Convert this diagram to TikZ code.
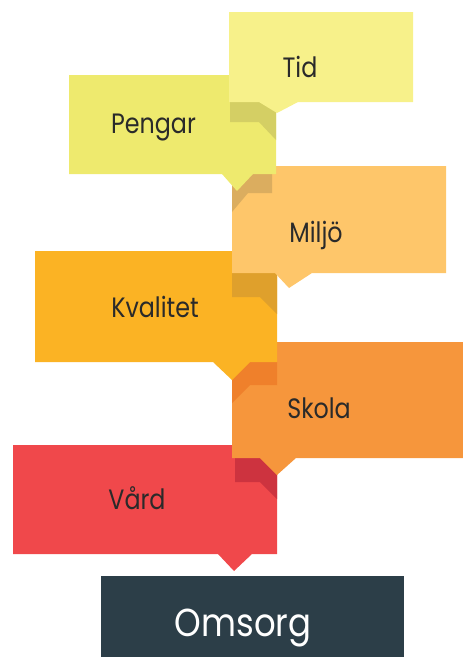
\documentclass[tikz,border=0pt]{standalone}
\usepackage{fontspec}
\setmainfont{Poppins}
\newfontfamily\lblfont{Poppins}[FakeStretch=0.85]
\newfontfamily\bigfont{Poppins}[FakeStretch=0.87]
\definecolor{cTid}{HTML}{F7F18A}
\definecolor{cPengar}{HTML}{EEEA6E}
\definecolor{sPengar}{HTML}{D4CF64}
\definecolor{cMiljo}{HTML}{FEC66A}
\definecolor{sMiljo}{HTML}{DBAD5F}
\definecolor{cKval}{HTML}{FBB324}
\definecolor{sKval}{HTML}{DFA02C}
\definecolor{cSkola}{HTML}{F6963C}
\definecolor{sSkola}{HTML}{EF802B}
\definecolor{cVard}{HTML}{F0484B}
\definecolor{sVard}{HTML}{CD333F}
\definecolor{cOmsorg}{HTML}{2C3E48}
\definecolor{txt}{HTML}{2A2A2A}
\begin{document}
\begin{tikzpicture}[x=1pt,y=-1pt,
  lbl/.style={anchor=base,inner sep=0pt,text=txt,font=\lblfont\fontsize{28}{32}\selectfont},
  bigl/.style={anchor=base,inner sep=0pt,text=white,font=\bigfont\fontsize{39}{44}\selectfont}]
\useasboundingbox (0,0) rectangle (463,657);
% Omsorg
\fill[cOmsorg] (101,576) rectangle (404,657);
\node[bigl] (omsorg) at (243,636) {Omsorg};
% Vard
\fill[cVard] (13,445)--(277,445)--(277,554)--(252,554)--(234,571)--(218,554)--(13,554)--cycle;
\fill[sVard] (235,458)--(277,458)--(277,499)--(260,482)--(235,482)--cycle;
\node[lbl] (vard) at (137,509) {Vård};
% Skola
\fill[cSkola] (232,342)--(463,342)--(463,458)--(296,458)--(277,475)--(260,458)--(232,458)--cycle;
\fill[sSkola] (232,362)--(277,362)--(277,385)--(250,385)--(232,403)--cycle;
\node[lbl] (skola) at (319,418) {Skola};
% Kvalitet
\fill[cKval] (35,251)--(277,251)--(277,362)--(250,362)--(232,380)--(213,362)--(35,362)--cycle;
\fill[sKval] (232,273)--(277,273)--(277,314)--(260,297)--(232,297)--cycle;
\node[lbl] (kvalitet) at (155,317) {Kvalitet};
% Miljo
\fill[cMiljo] (232,166)--(446,166)--(446,273)--(312,273)--(289,288)--(275,273)--(232,273)--cycle;
\fill[sMiljo] (232,174)--(272,174)--(272,193)--(248,193)--(232,212)--cycle;
\node[lbl] (miljo) at (316,242) {Miljö};
% Pengar
\fill[cPengar] (69,75)--(276,75)--(276,174)--(253,174)--(237,191)--(222,174)--(69,174)--cycle;
\fill[sPengar] (230,102)--(276,102)--(276,140)--(259,122)--(230,122)--cycle;
\node[lbl] (pengar) at (153.5,133) {Pengar};
% Tid
\fill[cTid] (229,12)--(413,12)--(413,102)--(298,102)--(277,113)--(259,102)--(229,102)--cycle;
\node[lbl] (tid) at (300,77) {Tid};
\end{tikzpicture}
\end{document}
